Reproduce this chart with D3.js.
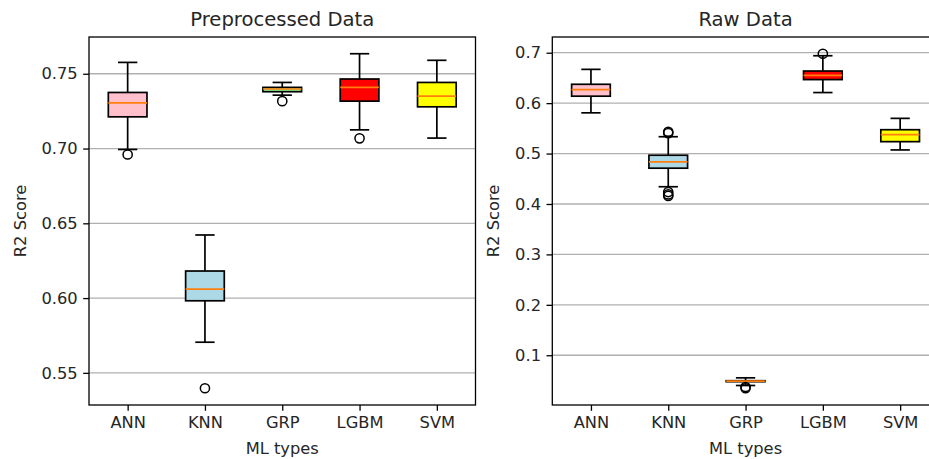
<!DOCTYPE html>
<html>
<head>
<meta charset="utf-8">
<script src="https://cdn.jsdelivr.net/npm/d3@7"></script>
<style>
  body { margin: 0; background: #fff; }
  svg text { font-family: "DejaVu Sans", sans-serif; fill: #262626; }
</style>
</head>
<body>
<div id="chart"></div>
<script>
// categories and box colours
var categories = ["ANN", "KNN", "GRP", "LGBM", "SVM"];
var boxColors = ["pink", "lightblue", "lightgreen", "red", "yellow"];

// box stats per model: [lower whisker, q1, median, q3, upper whisker]
var preStats = [
    [0.6994, 0.7212, 0.7306, 0.7375, 0.7576],
    [0.5705, 0.5982, 0.6060, 0.6181, 0.6422],
    [0.7357, 0.7380, 0.7398, 0.7409, 0.7442],
    [0.7125, 0.7317, 0.7409, 0.7465, 0.7634],
    [0.7070, 0.7279, 0.7351, 0.7442, 0.7590]
];
var preOutliers = [[0.6960], [0.5397], [0.7317], [0.7068], []];

var rawStats = [
    [0.5808, 0.6138, 0.6270, 0.6374, 0.6670],
    [0.4342, 0.4710, 0.4835, 0.4967, 0.5334],
    [0.0400, 0.0475, 0.0485, 0.0495, 0.0552],
    [0.6210, 0.6467, 0.6552, 0.6637, 0.6940],
    [0.5072, 0.5236, 0.5374, 0.5473, 0.5698]
];
var rawOutliers = [[], [0.5433, 0.5405, 0.4237, 0.4190, 0.4160], [0.0370, 0.0345], [0.6980], []];

var preTicks = [0.55, 0.60, 0.65, 0.70, 0.75];
var rawTicks = [0.1, 0.2, 0.3, 0.4, 0.5, 0.6, 0.7];

var width = 929, height = 459;
var lw = 1.7;

var svg = d3.select("#chart").append("svg")
    .attr("width", width)
    .attr("height", height);

function drawPanel(opts) {
    var x0 = opts.left, x1 = opts.left + 386.5, y0 = 37, y1 = 405;

    // matplotlib style autoscale: data range plus 5% margin
    var all = [];
    opts.stats.forEach(function(s, i) { all = all.concat(s, opts.outliers[i]); });
    var ext = d3.extent(all), pad = (ext[1] - ext[0]) * 0.05;

    var x = d3.scaleLinear().domain([0.5, 5.5]).range([x0, x1]);
    var y = d3.scaleLinear().domain([ext[0] - pad, ext[1] + pad]).range([y1, y0]);

    var g = svg.append("g");

    // horizontal grid
    g.selectAll(".grid").data(opts.ticks).enter().append("line")
        .attr("x1", x0).attr("x2", x1)
        .attr("y1", function(d) { return y(d); })
        .attr("y2", function(d) { return y(d); })
        .attr("stroke", "#b0b0b0").attr("stroke-width", 1.3);

    var yAxis = g.append("g")
        .attr("transform", "translate(" + x0 + ",0)")
        .call(d3.axisLeft(y).tickValues(opts.ticks).tickFormat(d3.format(opts.fmt))
            .tickSize(5.8).tickPadding(5.5));
    var xAxis = g.append("g")
        .attr("transform", "translate(0," + y1 + ")")
        .call(d3.axisBottom(x).tickValues([1, 2, 3, 4, 5])
            .tickFormat(function(d) { return categories[d - 1]; })
            .tickSize(5.8).tickPadding(5.5));
    [yAxis, xAxis].forEach(function(a) {
        a.select(".domain").remove();
        a.selectAll("line").attr("stroke", "#000").attr("stroke-width", 1.3);
        a.selectAll("text").attr("font-size", 16.3).attr("fill", "#262626");
    });

    var bw = (x(1.25) - x(0.75)), cw = bw / 2;
    var box = g.selectAll(".box").data(opts.stats).enter().append("g");

    // whiskers
    box.append("line")
        .attr("x1", function(d, i) { return x(i + 1); })
        .attr("x2", function(d, i) { return x(i + 1); })
        .attr("y1", function(d) { return y(d[0]); })
        .attr("y2", function(d) { return y(d[1]); })
        .attr("stroke", "#000").attr("stroke-width", lw);
    box.append("line")
        .attr("x1", function(d, i) { return x(i + 1); })
        .attr("x2", function(d, i) { return x(i + 1); })
        .attr("y1", function(d) { return y(d[3]); })
        .attr("y2", function(d) { return y(d[4]); })
        .attr("stroke", "#000").attr("stroke-width", lw);
    // caps
    [0, 4].forEach(function(k) {
        box.append("line")
            .attr("x1", function(d, i) { return x(i + 1) - cw / 2; })
            .attr("x2", function(d, i) { return x(i + 1) + cw / 2; })
            .attr("y1", function(d) { return y(d[k]); })
            .attr("y2", function(d) { return y(d[k]); })
            .attr("stroke", "#000").attr("stroke-width", lw);
    });
    // box body
    box.append("rect")
        .attr("x", function(d, i) { return x(i + 1) - bw / 2; })
        .attr("width", bw)
        .attr("y", function(d) { return y(d[3]); })
        .attr("height", function(d) { return y(d[1]) - y(d[3]); })
        .attr("fill", function(d, i) { return boxColors[i]; })
        .attr("stroke", "#000").attr("stroke-width", lw);
    // median
    box.append("line")
        .attr("x1", function(d, i) { return x(i + 1) - bw / 2; })
        .attr("x2", function(d, i) { return x(i + 1) + bw / 2; })
        .attr("y1", function(d) { return y(d[2]); })
        .attr("y2", function(d) { return y(d[2]); })
        .attr("stroke", "#ff7f0e").attr("stroke-width", lw);

    // fliers
    var fl = [];
    opts.outliers.forEach(function(o, i) { o.forEach(function(v) { fl.push({i: i, v: v}); }); });
    g.selectAll(".flier").data(fl).enter().append("circle")
        .attr("cx", function(d) { return x(d.i + 1); })
        .attr("cy", function(d) { return y(d.v); })
        .attr("r", 4.6)
        .attr("fill", "none").attr("stroke", "#000").attr("stroke-width", 1.5);

    // frame
    g.append("rect")
        .attr("x", x0).attr("y", y0)
        .attr("width", x1 - x0).attr("height", y1 - y0)
        .attr("fill", "none").attr("stroke", "#000").attr("stroke-width", 1.3);

    g.append("text")
        .attr("x", (x0 + x1) / 2).attr("y", 26)
        .attr("text-anchor", "middle").attr("font-size", 19.6)
        .text(opts.title);
    g.append("text")
        .attr("x", (x0 + x1) / 2).attr("y", 454)
        .attr("text-anchor", "middle").attr("font-size", 16.3)
        .text("ML types");
    g.append("text")
        .attr("transform", "translate(" + opts.labelX + "," + (y0 + y1) / 2 + ") rotate(-90)")
        .attr("text-anchor", "middle").attr("font-size", 16.3)
        .text("R2 Score");
}

drawPanel({left: 89, stats: preStats, outliers: preOutliers, ticks: preTicks,
    fmt: ".2f", title: "Preprocessed Data", labelX: 26});
drawPanel({left: 552.3, stats: rawStats, outliers: rawOutliers, ticks: rawTicks,
    fmt: ".1f", title: "Raw Data", labelX: 499});
</script>
</body>
</html>
